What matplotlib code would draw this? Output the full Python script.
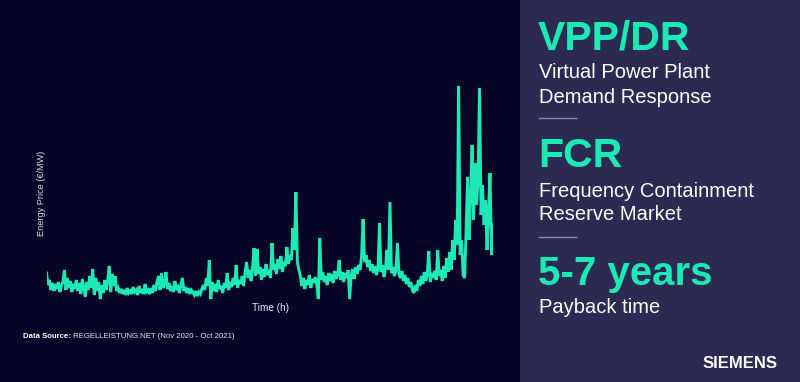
import numpy as np
import matplotlib
matplotlib.use("Agg")
import matplotlib.pyplot as plt
from matplotlib.patches import Rectangle

# ---------------- data ----------------
hours_total = 8760
price = [
    27, 15, 20, 10, 17, 9, 16, 11, 18, 8,
    14, 18, 30, 10, 22, 12, 19, 8, 16, 11,
    20, 9, 17, 6, 21, 12, 3, 18, 10, 24,
    12, 31, 5, 22, 9, 18, 1, 15, 7, 20,
    10, 19, 34, 8, 26, 14, 24, 9, 12, 7,
    11, 6, 10, 5, 12, 7, 9, 6, 13, 8,
    10, 5, 14, 7, 11, 6, 16, 8, 10, 6,
    12, 7, 15, 9, 18, 24, 10, 27, 12, 16,
    28, 11, 17, 9, 14, 8, 19, 10, 13, 7,
    15, 22, 9, 13, 7, 12, 6, 10, 8, 5,
    9, 4, 8, 6, 11, 15, 10, 22, 14, 40,
    1, 18, 9, 16, 8, 20, 11, 14, 7, 17,
    12, 27, 10, 18, 13, 22, 15, 35, 12, 20,
    16, 24, 14, 28, 38, 22, 30, 19, 33, 52,
    24, 51, 26, 33, 20, 31, 23, 36, 25, 30,
    22, 57, 30, 36, 26, 41, 31, 44, 28, 38,
    34, 53, 36, 45, 40, 72, 50, 108, 38, 30,
    24, 14, 22, 11, 20, 15, 25, 12, 21, 17,
    23, 16, 1, 62, 20, 28, 18, 24, 15, 27,
    19, 26, 17, 29, 21, 25, 40, 20, 28, 18,
    27, 22, 30, 1, 24, 31, 21, 33, 26, 35,
    30, 44, 81, 38, 45, 33, 40, 29, 36, 27,
    34, 25, 31, 77, 28, 35, 23, 32, 50, 30,
    98, 27, 33, 24, 30, 57, 26, 22, 29, 19,
    25, 16, 22, 13, 18, 10, 7, 15, 9, 20,
    14, 24, 16, 28, 19, 26, 49, 18, 27, 22,
    29, 20, 50, 24, 30, 19, 34, 22, 42, 28,
    48, 30, 60, 40, 80, 55, 214, 45, 60, 25,
    22, 70, 123, 60, 105, 155, 80, 137, 95, 120,
    212, 85, 115, 75, 100, 50, 90, 127, 45, 75,
]
hours = np.linspace(0, hours_total, len(price))

y_label = "Energy Price (€/MW)"
x_label = "Time (h)"
source_bold = "Data Source:"
source_text = " REGELLEISTUNG.NET (Nov 2020 - Oct 2021)"

headlines = ["VPP/DR", "FCR", "5-7 years"]
sublines = [["Virtual Power Plant", "Demand Response"],
            ["Frequency Containment", "Reserve Market"],
            ["Payback time"]]
brand = "SIEMENS"

# ---------------- style ----------------
W, H = 800, 382
BG_LEFT = "#060528"
BG_RIGHT = "#2b2a52"
TEAL = "#1de9b4"
FONT = "Liberation Sans"

def fx(x):
    return x / W

def fy(y):
    return 1 - y / H

fig = plt.figure(figsize=(W / 100, H / 100), dpi=100)
fig.patch.set_facecolor(BG_LEFT)
fig.add_artist(Rectangle((fx(520), 0), fx(280), 1, transform=fig.transFigure,
                         facecolor=BG_RIGHT, edgecolor="none", zorder=0))

# chart axes
ax = fig.add_axes([fx(46.5), fy(300), fx(493) - fx(46.5), fy(86) - fy(300)])
ax.set_facecolor("none")
ax.plot(hours, price, color=TEAL, lw=2.1, solid_joinstyle="miter")
ax.set_xlim(0, hours_total)
ax.set_ylim(0, 214)
ax.axis("off")

fig.text(fx(41), fy(193), y_label, rotation=90, ha="center", va="center",
         color="#d8d8e0", fontsize=6.6, family=FONT)
fig.text(fx(270), fy(308), x_label, ha="center", va="center",
         color="#e8e8ee", fontsize=7.2, family=FONT)
t_src = fig.text(fx(23), fy(338), source_bold, ha="left", va="baseline",
                 color="white", fontsize=5.6, family=FONT, weight="bold")
t_rest = fig.text(0, 0, source_text, color="#e8e8ee",
                  fontsize=5.6, family=FONT, ha="left", va="baseline")
# place normal part right after bold part
fig.canvas.draw()
bb = t_src.get_window_extent()
t_rest.set_position((bb.x1 / W, fy(338)))

# right panel
x0 = fx(538)
head_base = [50, 167, 285]
head_size = [29.5, 29.5, 29]
sub_base = [[78, 103], [197, 220], [313]]
for h, hs, hb, subs, sbs in zip(headlines, head_size, head_base, sublines, sub_base):
    fig.text(x0, fy(hb), h, color=TEAL, fontsize=hs, family=FONT,
             weight="bold", ha="left", va="baseline")
    for s, sb in zip(subs, sbs):
        fig.text(x0 + fx(1), fy(sb), s, color="white", fontsize=14.5,
                 family=FONT, ha="left", va="baseline")

for ly in [118, 237]:
    fig.add_artist(plt.Line2D([fx(539), fx(576)], [fy(ly), fy(ly)],
                              transform=fig.transFigure, color="#8a8aa8", lw=1))

fig.text(fx(778), fy(368), brand, color="white", fontsize=12, family=FONT,
         weight="bold", ha="right", va="baseline")

fig.savefig("out.png", dpi=100, facecolor=fig.get_facecolor())
